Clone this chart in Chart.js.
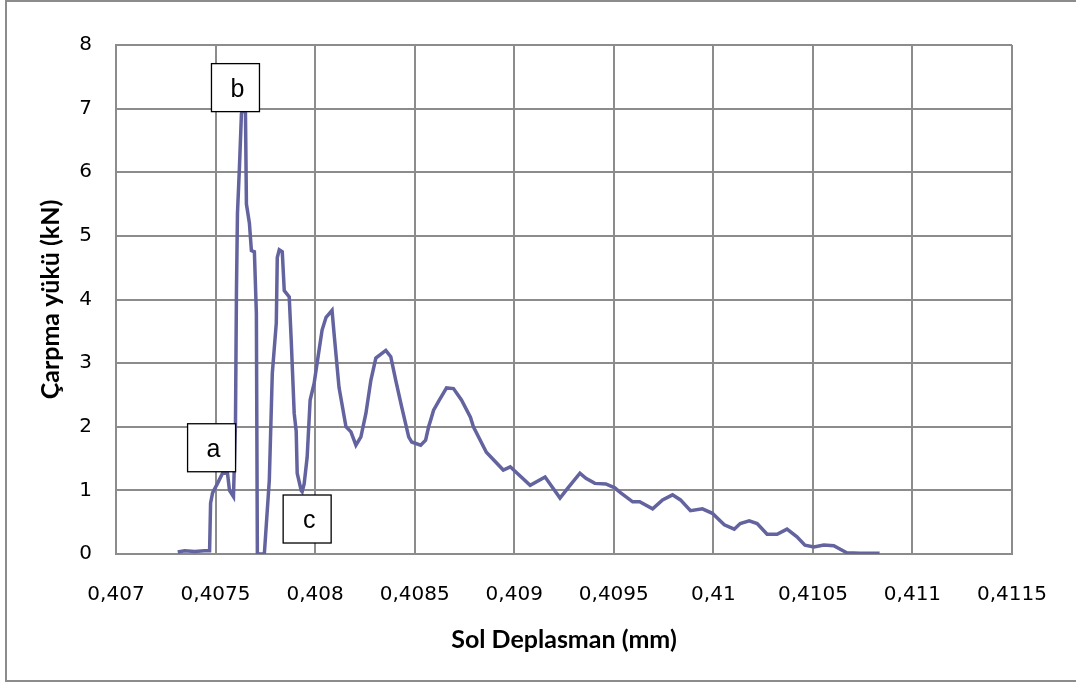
<!DOCTYPE html>
<html lang="tr">
<head>
<meta charset="UTF-8">
<title>Çarpma yükü - Sol Deplasman</title>
<script src="https://cdn.jsdelivr.net/npm/chart.js"></script>
<style>
  body { margin: 0; background: #fff; }
  #kutu { position: relative; width: 1076px; height: 682px; }
</style>
</head>
<body>
<div id="kutu"><canvas id="grafik"></canvas></div>
<script>
// Sol deplasman (mm) - okunan degerler
const deplasman = [
  0.40731, 0.407345, 0.407395, 0.407445, 0.40747, 0.407475, 0.407485, 0.40751, 0.407535, 0.40756,
  0.40757, 0.40759, 0.4076, 0.407605, 0.40761, 0.40762, 0.40763, 0.40764, 0.40765, 0.407655,
  0.40767, 0.40768, 0.407695, 0.407705, 0.40771, 0.407745, 0.40777, 0.407785, 0.407805, 0.40781,
  0.40782, 0.407835, 0.407845, 0.40787, 0.40788, 0.407895, 0.407905, 0.40791, 0.40793, 0.407935,
  0.407945, 0.40796, 0.407975, 0.407995, 0.40801, 0.408035, 0.408055, 0.408085, 0.408095, 0.40812,
  0.408155, 0.40818, 0.408205, 0.40823, 0.408255, 0.40828, 0.408305, 0.408355, 0.40838, 0.408405,
  0.408435, 0.40847, 0.408485, 0.40853, 0.408555, 0.40857, 0.40858, 0.408595, 0.40862, 0.40866,
  0.408695, 0.408735, 0.40878, 0.408795, 0.40886, 0.408945, 0.40898, 0.40908, 0.409155, 0.40923,
  0.40927, 0.40933, 0.40936, 0.409405, 0.40946, 0.409505, 0.409535, 0.409595, 0.40963, 0.409695,
  0.409745, 0.409795, 0.409835, 0.409885, 0.409945, 0.409995, 0.410055, 0.410105, 0.410135, 0.41018,
  0.41022, 0.41027, 0.41032, 0.41037, 0.41042, 0.41046, 0.410505, 0.410555, 0.410605, 0.41067,
  0.410735, 0.410835
];

// Carpma yuku (kN)
const yuk = [
  0.03, 0.05, 0.04, 0.05, 0.05, 0.8, 0.96, 1.11, 1.27, 1.27,
  1.0, 0.9, 2.05, 4.14, 5.35, 6.08, 6.92, 7.0, 7.0, 5.5,
  5.2, 4.77, 4.75, 3.78, 0, 0, 1.16, 2.84, 3.63, 4.66,
  4.78, 4.75, 4.14, 4.04, 3.36, 2.21, 1.93, 1.27, 1.0, 0.98,
  1.1, 1.52, 2.42, 2.68, 3.0, 3.52, 3.72, 3.83, 3.47, 2.62,
  2.0, 1.92, 1.71, 1.84, 2.21, 2.73, 3.08, 3.2, 3.1, 2.73,
  2.31, 1.84, 1.76, 1.71, 1.79, 2.0, 2.1, 2.26, 2.4, 2.61,
  2.6, 2.42, 2.15, 2.0, 1.6, 1.32, 1.37, 1.08, 1.21, 0.88,
  1.04, 1.27, 1.19, 1.11, 1.1, 1.04, 0.96, 0.82, 0.82, 0.71,
  0.85, 0.93, 0.85, 0.68, 0.71, 0.64, 0.46, 0.39, 0.48, 0.52,
  0.48, 0.31, 0.31, 0.39, 0.27, 0.14, 0.11, 0.14, 0.13, 0.02,
  0.01, 0.01
];

// eksen etiketleri
const xTickDegerleri = [0.407, 0.4075, 0.408, 0.4085, 0.409, 0.4095, 0.41, 0.4105, 0.411, 0.4115];
const xTickEtiketleri = ['0,407', '0,4075', '0,408', '0,4085', '0,409', '0,4095', '0,41', '0,4105', '0,411', '0,4115'];

// a, b, c kutulari (veri koordinatlarinda merkez)
const isaretler = ['a', 'b', 'c'];
const isaretX = [0.40748, 0.4076, 0.40796];
const isaretY = [1.67, 7.33, 0.55];

const noktalar = deplasman.map(function (x, i) { return { x: x, y: yuk[i] }; });

const gri = '#8c8c8c';

// dis cerceve ve beyaz zemin
const cerceve = {
  id: 'cerceve',
  beforeDraw: function (chart) {
    const ctx = chart.ctx;
    ctx.save();
    ctx.fillStyle = '#fff';
    ctx.fillRect(0, 0, chart.width, chart.height);
    ctx.strokeStyle = gri;
    ctx.lineWidth = 2;
    ctx.strokeRect(6, 1, chart.width + 10, chart.height - 2);
    ctx.restore();
  }
};

// etiket kutulari
const kutular = {
  id: 'kutular',
  afterDatasetsDraw: function (chart) {
    const ctx = chart.ctx;
    const sx = chart.scales.x, sy = chart.scales.y;
    ctx.save();
    for (let i = 0; i < isaretler.length; i++) {
      const px = sx.getPixelForValue(isaretX[i]);
      const py = sy.getPixelForValue(isaretY[i]);
      ctx.fillStyle = '#fff';
      ctx.fillRect(px - 24, py - 24, 48, 48);
      ctx.strokeStyle = '#000';
      ctx.lineWidth = 1.3;
      ctx.strokeRect(px - 24, py - 24, 48, 48);
      ctx.fillStyle = '#000';
      ctx.font = '25px "Liberation Sans", Arial, sans-serif';
      ctx.textAlign = 'center';
      ctx.textBaseline = 'middle';
      ctx.fillText(isaretler[i], px + 2, py + 2);
    }
    ctx.restore();
  }
};

new Chart(document.getElementById('grafik'), {
  type: 'line',
  data: {
    datasets: [{
      data: noktalar,
      borderColor: '#63639f',
      borderWidth: 3.5,
      pointRadius: 0,
      tension: 0,
      fill: false
    }]
  },
  options: {
    responsive: true,
    maintainAspectRatio: false,
    animation: false,
    layout: { padding: { top: 45, right: 60, left: 0, bottom: 0 } },
    plugins: { legend: { display: false }, tooltip: { enabled: false } },
    scales: {
      x: {
        type: 'linear',
        min: 0.407,
        max: 0.4115,
        afterBuildTicks: function (scale) {
          scale.ticks = xTickDegerleri.map(function (v) { return { value: v }; });
        },
        afterFit: function (scale) { scale.height = 128; },
        grid: { color: gri, lineWidth: 2, drawTicks: false },
        border: { color: gri, width: 2 },
        ticks: {
          padding: 29,
          maxRotation: 0,
          autoSkip: false,
          color: '#000',
          font: { family: '"DejaVu Sans"', size: 20 },
          callback: function (v, i) { return xTickEtiketleri[i]; }
        },
        title: {
          display: true,
          text: 'Sol Deplasman (mm)',
          color: '#000',
          font: { family: 'Lato', size: 25, weight: 'bold' },
          padding: { top: 0, bottom: 27 }
        }
      },
      y: {
        min: 0,
        max: 8,
        afterFit: function (scale) { scale.width = 116; },
        grid: { color: gri, lineWidth: 2, drawTicks: false },
        border: { color: gri, width: 2 },
        ticks: {
          stepSize: 1,
          padding: 24,
          color: '#000',
          font: { family: '"DejaVu Sans"', size: 20 }
        },
        title: {
          display: true,
          text: 'Çarpma yükü (kN)',
          color: '#000',
          font: { family: 'Lato', size: 25, weight: 'bold' },
          padding: { top: 36, bottom: 0 }
        }
      }
    }
  },
  plugins: [cerceve, kutular]
});
</script>
</body>
</html>
